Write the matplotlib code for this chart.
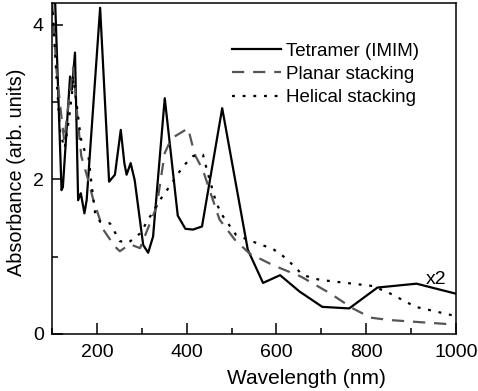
import matplotlib
matplotlib.use("Agg")
import matplotlib.pyplot as plt
from matplotlib.ticker import MultipleLocator

plt.rcParams['font.family'] = ['Liberation Sans', 'DejaVu Sans']

# Tetramer (IMIM)
tet_x = [100, 107, 121, 124, 140, 144, 151, 158, 164, 172, 177, 207, 227, 240, 253, 261, 266,
         275, 284, 303, 314, 325, 351, 380, 397, 414, 434, 479, 536, 570, 608, 651, 702, 762,
         825, 912, 1000]
tet_y = [4.6, 4.26, 1.86, 1.9, 3.33, 3.16, 3.64, 1.73, 1.82, 1.56, 1.73, 4.22, 1.97, 2.06, 2.64,
         2.21, 2.06, 2.21, 1.99, 1.15, 1.05, 1.26, 3.05, 1.53, 1.36, 1.35, 1.39, 2.92, 1.09, 0.66,
         0.76, 0.55, 0.35, 0.33, 0.60, 0.65, 0.52]

# Planar stacking
pla_x = [100, 110, 120, 127, 135, 147, 155, 165, 180, 192, 214, 240, 251, 273, 296, 333, 351,
         366, 403, 418, 436, 451, 473, 507, 540, 592, 655, 718, 770, 810, 851, 925, 1000]
pla_y = [4.3, 3.4, 2.85, 2.5, 2.9, 3.45, 2.9, 2.3, 2.0, 1.73, 1.35, 1.13, 1.07, 1.16, 1.11, 1.65,
         2.34, 2.53, 2.66, 2.32, 2.12, 1.86, 1.48, 1.22, 1.04, 0.89, 0.74, 0.53, 0.33, 0.21, 0.18,
         0.15, 0.12]

# Helical stacking
hel_x = [100, 110, 118, 128, 138, 148, 158, 164, 173, 181, 188, 196, 207, 229, 251, 270, 296,
         340, 362, 392, 414, 436, 446, 466, 481, 510, 558, 592, 621, 659, 696, 814, 851, 910, 1000]
hel_y = [4.3, 3.3, 2.6, 2.4, 2.8, 3.3, 2.81, 2.53, 2.36, 2.30, 1.93, 1.56, 1.45, 1.43, 1.2, 1.18,
         1.30, 1.73, 1.91, 2.17, 2.30, 2.32, 2.1, 1.69, 1.52, 1.28, 1.17, 1.10, 0.98, 0.76, 0.70,
         0.62, 0.53, 0.35, 0.23]

fig = plt.figure(figsize=(4.78, 3.91), dpi=100)
ax = fig.add_axes([0.109, 0.146, 0.845, 0.846])

ax.plot(tet_x, tet_y, color='black', lw=1.6, label='Tetramer (IMIM)')
ax.plot(pla_x, pla_y, color='#555555', lw=1.6, dashes=(5.5, 4), label='Planar stacking')
ax.plot(hel_x, hel_y, color='black', lw=1.6, dashes=(1.3, 3.5), label='Helical stacking')

ax.set_xlim(100, 1000)
ax.set_ylim(0, 4.28)
ax.xaxis.set_major_locator(MultipleLocator(200))
ax.xaxis.set_minor_locator(MultipleLocator(100))
ax.yaxis.set_major_locator(MultipleLocator(2))
ax.yaxis.set_minor_locator(MultipleLocator(1))
ax.tick_params(which='major', direction='in', length=8, width=1.1, labelsize=14)
ax.tick_params(axis='x', which='major', pad=7)
ax.tick_params(axis='y', which='major', pad=6)
ax.tick_params(which='minor', direction='in', length=4.5, width=1.1)
for s in ax.spines.values():
    s.set_linewidth(1.1)

ax.set_xlabel('Wavelength (nm)', fontsize=15, labelpad=6, x=0.63)
ax.set_ylabel('Absorbance (arb. units)', fontsize=14.3, labelpad=5, y=0.49)

ax.text(955, 0.71, 'x2', fontsize=14, ha='center', va='center')

ax.legend(loc='upper left', bbox_to_anchor=(0.427, 0.903), frameon=False, fontsize=13.5,
          handlelength=2.6, handletextpad=0.3, labelspacing=0.32, borderaxespad=0)

fig.savefig('out.png', dpi=100)
